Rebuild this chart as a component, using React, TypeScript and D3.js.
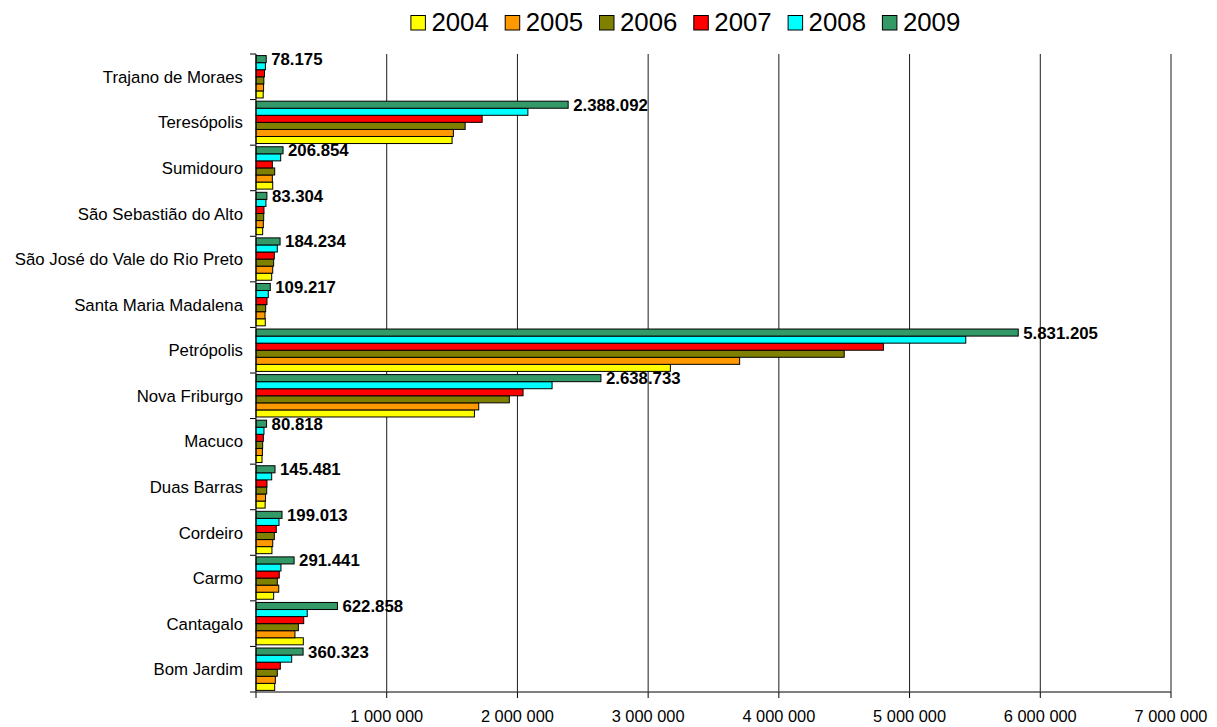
import React from "react";
import * as d3 from "d3";

const categories = [
  "Trajano de Moraes",
  "Teresópolis",
  "Sumidouro",
  "São Sebastião do Alto",
  "São José do Vale do Rio Preto",
  "Santa Maria Madalena",
  "Petrópolis",
  "Nova Friburgo",
  "Macuco",
  "Duas Barras",
  "Cordeiro",
  "Carmo",
  "Cantagalo",
  "Bom Jardim",
];

const years = ["2004", "2005", "2006", "2007", "2008", "2009"];
const colors = ["#FFFF00", "#FF9900", "#808000", "#FF0000", "#00FFFF", "#339966"];

const v2004 = [55000, 1500000, 128000, 51000, 120000, 71000, 3170000, 1671000, 46000, 70000, 122000, 135000, 362000, 143000];
const v2005 = [58000, 1510000, 125000, 56000, 128000, 69000, 3700000, 1704000, 49000, 73000, 128000, 174000, 298000, 148000];
const v2006 = [60000, 1600000, 143000, 59000, 135000, 74000, 4500000, 1938000, 51000, 82000, 140000, 163000, 324000, 163000];
const v2007 = [65000, 1730000, 125000, 61000, 140000, 84000, 4800000, 2043000, 56000, 84000, 155000, 178000, 365000, 186000];
const v2008 = [72000, 2080000, 189000, 76000, 163000, 94000, 5430000, 2265000, 61000, 120000, 176000, 191000, 392000, 273000];
const v2009 = [78175, 2388092, 206854, 83304, 184234, 109217, 5831205, 2638733, 80818, 145481, 199013, 291441, 622858, 360323];

const series = [v2004, v2005, v2006, v2007, v2008, v2009];
const xTicks = [1000000, 2000000, 3000000, 4000000, 5000000, 6000000, 7000000];

const W = 1217;
const H = 727;
const left = 256;
const right = 1171;
const top = 54;
const bottom = 692;

const brLocale = d3.formatLocale({ decimal: ",", thousands: ".", grouping: [3], currency: ["R$", ""] });
const fmtLabel = brLocale.format(",d");
const spLocale = d3.formatLocale({ decimal: ",", thousands: " ", grouping: [3], currency: ["", ""] });
const fmtTick = spLocale.format(",d");

export default function App() {
  const x = d3.scaleLinear().domain([0, 7000000]).range([left, right]);
  const y = d3.scaleBand<string>().domain(categories).range([top, bottom]).padding(0);
  const step = y.bandwidth();
  const padOut = 1.6;
  const inner = d3
    .scaleBand<string>()
    .domain([...years].reverse())
    .range([padOut, step - padOut])
    .padding(0);
  const font = "Arial, 'Liberation Sans', Helvetica, sans-serif";
  const lastIdx = years.length - 1;

  return (
    <svg width={W} height={H} style={{ position: "absolute", left: 0, top: 0, background: "#fff" }} fontFamily={font}>
      {/* gridlines */}
      {xTicks.map((t) => (
        <line key={"g" + t} x1={x(t)} x2={x(t)} y1={top} y2={bottom} stroke="#1a1a1a" strokeWidth={1} />
      ))}
      {/* bars */}
      {categories.map((c, ci) => (
        <g key={c}>
          {series.map((s, si) => (
            <rect
              key={si}
              x={x(0)}
              y={(y(c) as number) + (inner(years[si]) as number)}
              width={x(s[ci]) - x(0)}
              height={inner.bandwidth()}
              fill={colors[si]}
              stroke="#000"
              strokeWidth={1}
            />
          ))}
          <text
            x={x(series[lastIdx][ci]) + 5}
            y={(y(c) as number) + (inner(years[lastIdx]) as number) + inner.bandwidth() / 2 + 6}
            fontSize={16.8}
            fontWeight="bold"
            fill="#000"
          >
            {fmtLabel(series[lastIdx][ci])}
          </text>
          <text
            x={243}
            y={(y(c) as number) + step / 2 + 6}
            fontSize={16.8}
            textAnchor="end"
            fill="#000"
          >
            {c}
          </text>
        </g>
      ))}
      {/* left axis */}
      <line x1={left} x2={left} y1={top} y2={bottom} stroke="#000" strokeWidth={1} />
      {categories.map((c) => (
        <line key={"yt" + c} x1={left - 6} x2={left} y1={y(c)} y2={y(c)} stroke="#000" />
      ))}
      <line x1={left - 6} x2={left} y1={bottom} y2={bottom} stroke="#000" />
      {/* bottom axis */}
      <line x1={left} x2={right} y1={bottom} y2={bottom} stroke="#555" strokeWidth={1.5} />
      {[0, ...xTicks].map((t) => (
        <line key={"xt" + t} x1={x(t)} x2={x(t)} y1={bottom} y2={bottom + 6} stroke="#000" />
      ))}
      {xTicks.map((t) => (
        <text key={"xl" + t} x={x(t)} y={722} fontSize={16.4} textAnchor="middle" fill="#000">
          {fmtTick(t)}
        </text>
      ))}
      {/* legend */}
      {years.map((yr, i) => (
        <g key={yr} transform={`translate(${410.4 + i * 94.3},0)`}>
          <rect x={0.5} y={15.5} width={14.5} height={14.5} fill={colors[i]} stroke="#000" strokeWidth={1} />
          <text x={21} y={31.4} fontSize={25.8} fill="#000">
            {yr}
          </text>
        </g>
      ))}
    </svg>
  );
}
